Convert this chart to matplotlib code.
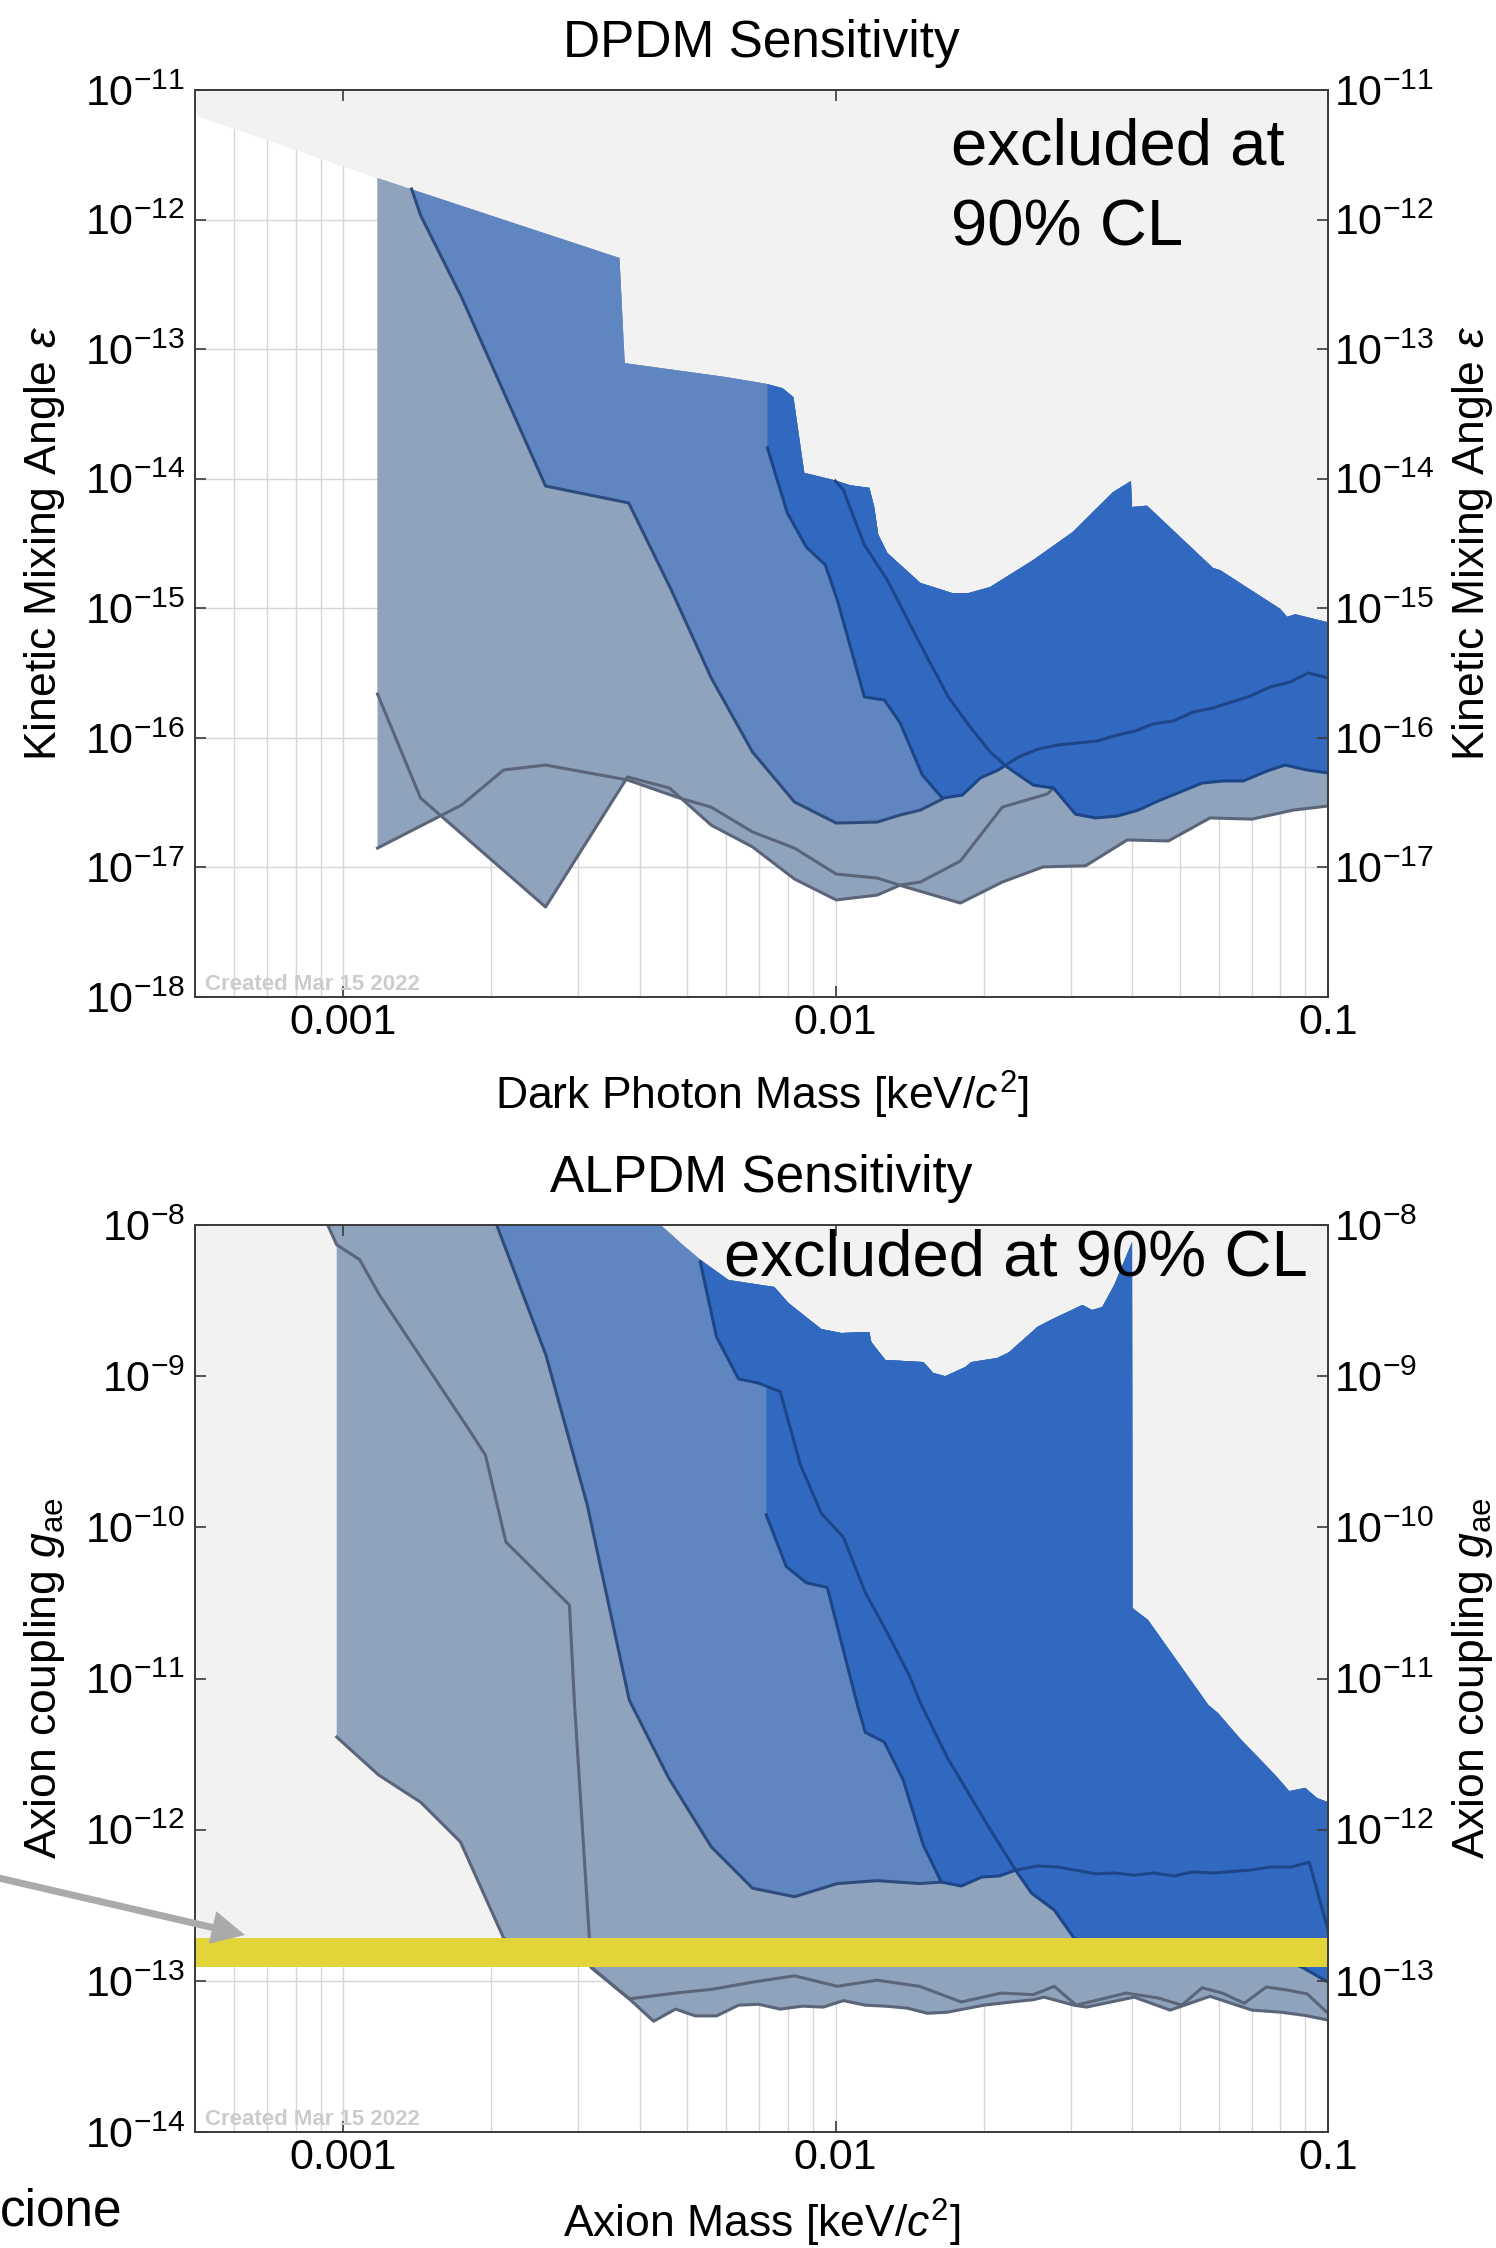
import matplotlib
matplotlib.use("Agg")
import matplotlib.pyplot as plt
import numpy as np
from matplotlib.patches import FancyArrowPatch, ArrowStyle
from matplotlib.ticker import NullFormatter, NullLocator

plt.rcParams['font.family'] = ['Liberation Sans', 'DejaVu Sans']
plt.rcParams['mathtext.fontset'] = 'custom'
plt.rcParams['mathtext.rm'] = 'Liberation Sans'
plt.rcParams['mathtext.it'] = 'Liberation Sans:italic'
plt.rcParams['mathtext.bf'] = 'Liberation Sans:bold'

# ---------------- DPDM (dark photon mass [keV], kinetic mixing) ----------------
# upper edge of the sensitivity region (grey above it = excluded)
dp_top_mass = [5.0e-4, 1.174e-3, 3.64e-3, 3.73e-3, 5.97e-3, 7.23e-3, 7.8e-3, 8.21e-3, 8.64e-3,
               9.89e-3, 1.071e-2, 1.171e-2, 1.198e-2, 1.221e-2, 1.274e-2, 1.486e-2, 1.726e-2,
               1.86e-2, 2.06e-2, 2.52e-2, 3.03e-2, 3.66e-2, 3.98e-2, 4.0e-2, 4.29e-2, 5.84e-2,
               6.04e-2, 8.0e-2, 8.26e-2, 8.58e-2, 0.1]
dp_top_eps = [6.4e-12, 2.09e-12, 5.05e-13, 7.8e-14, 6.1e-14, 5.4e-14, 5.0e-14, 4.27e-14, 1.11e-14,
              9.8e-15, 8.9e-15, 8.5e-15, 6.05e-15, 3.7e-15, 2.67e-15, 1.57e-15, 1.31e-15,
              1.31e-15, 1.46e-15, 2.36e-15, 3.88e-15, 7.9e-15, 9.6e-15, 6.05e-15, 6.2e-15, 2.05e-15,
              1.97e-15, 9.9e-16, 8.6e-16, 9.0e-16, 7.8e-16]

dp_light1_mass = [1.174e-3, 1.436e-3, 2.576e-3, 3.78e-3, 4.60e-3, 5.59e-3, 6.78e-3, 8.25e-3,
                  1.003e-2, 1.215e-2, 1.353e-2, 1.486e-2, 1.792e-2, 2.18e-2, 2.69e-2, 2.77e-2]
dp_light1_eps = [2.18e-16, 3.43e-17, 4.95e-18, 4.99e-17, 4.10e-17, 2.12e-17, 1.44e-17, 8.14e-18,
                 5.61e-18, 6.12e-18, 7.31e-18, 7.71e-18, 1.12e-17, 2.92e-17, 3.69e-17, 4.10e-17]

dp_light2_mass = [1.174e-3, 1.739e-3, 2.117e-3, 2.576e-3, 3.78e-3, 4.82e-3, 5.59e-3, 6.78e-3,
                  8.25e-3, 1.003e-2, 1.215e-2, 1.366e-2, 1.792e-2, 2.18e-2, 2.64e-2, 3.22e-2,
                  3.91e-2, 4.74e-2, 5.76e-2, 7.01e-2, 8.50e-2, 0.1]
dp_light2_eps = [1.41e-17, 3.03e-17, 5.65e-17, 6.17e-17, 4.73e-17, 3.43e-17, 2.92e-17, 1.88e-17,
                 1.41e-17, 8.89e-18, 8.28e-18, 7.19e-18, 5.31e-18, 7.71e-18, 1.01e-17, 1.03e-17,
                 1.63e-17, 1.60e-17, 2.41e-17, 2.36e-17, 2.77e-17, 2.98e-17]

dp_mid_mass = [1.377e-3, 1.436e-3, 1.739e-3, 2.576e-3, 3.80e-3, 4.64e-3, 5.59e-3, 6.78e-3,
               8.25e-3, 1.003e-2, 1.215e-2, 1.353e-2, 1.486e-2, 1.647e-2]
dp_mid_eps = [1.72e-12, 1.08e-12, 2.52e-13, 8.78e-15, 6.50e-15, 1.38e-15, 2.90e-16, 7.78e-17,
              3.20e-17, 2.20e-17, 2.24e-17, 2.54e-17, 2.77e-17, 3.37e-17]

dp_dark1_mass = [7.27e-3, 7.98e-3, 8.72e-3, 9.53e-3, 1.008e-2, 1.144e-2, 1.256e-2, 1.353e-2,
                 1.50e-2, 1.647e-2, 1.809e-2, 1.967e-2, 2.14e-2, 2.35e-2, 2.58e-2, 2.83e-2,
                 3.40e-2, 3.73e-2, 4.06e-2, 4.41e-2, 4.85e-2, 5.32e-2, 5.84e-2, 6.95e-2,
                 7.63e-2, 8.38e-2, 9.11e-2, 0.1]
dp_dark1_eps = [1.73e-14, 5.44e-15, 2.97e-15, 2.16e-15, 1.16e-15, 2.07e-16, 1.96e-16, 1.30e-16,
                5.17e-17, 3.43e-17, 3.62e-17, 4.90e-17, 5.65e-17, 7.11e-17, 8.20e-17, 8.81e-17,
                9.46e-17, 1.05e-16, 1.13e-16, 1.28e-16, 1.35e-16, 1.58e-16, 1.70e-16, 2.10e-16,
                2.47e-16, 2.70e-16, 3.17e-16, 2.90e-16]

dp_dark2_mass = [9.99e-3, 1.037e-2, 1.144e-2, 1.274e-2, 1.507e-2, 1.694e-2, 1.877e-2, 2.06e-2,
                 2.23e-2, 2.52e-2, 2.77e-2, 3.07e-2, 3.37e-2, 3.73e-2, 4.12e-2, 4.52e-2,
                 5.01e-2, 5.55e-2, 6.12e-2, 6.73e-2, 7.52e-2, 8.18e-2, 9.07e-2, 0.1]
dp_dark2_eps = [9.6e-15, 8.18e-15, 3.08e-15, 1.65e-15, 4.76e-16, 2.07e-16, 1.21e-16, 7.78e-17,
                5.96e-17, 4.32e-17, 4.10e-17, 2.58e-17, 2.41e-17, 2.49e-17, 2.77e-17, 3.26e-17,
                3.82e-17, 4.48e-17, 4.65e-17, 4.65e-17, 5.55e-17, 6.17e-17, 5.65e-17, 5.36e-17]

# ---------------- ALPDM (axion mass [keV], coupling g_ae) ----------------
al_top_mass = [5.0e-4, 4.41e-3, 4.575e-3, 4.89e-3, 5.31e-3, 6.06e-3, 7.51e-3, 8.02e-3, 9.35e-3,
               1.027e-2, 1.171e-2, 1.182e-2, 1.262e-2, 1.507e-2, 1.579e-2, 1.67e-2, 1.834e-2,
               1.886e-2, 2.13e-2, 2.25e-2, 2.57e-2, 2.73e-2, 3.17e-2, 3.32e-2, 3.48e-2, 3.68e-2,
               4.00e-2, 4.01e-2, 4.31e-2, 5.71e-2, 5.98e-2, 6.63e-2, 7.81e-2, 8.34e-2, 8.99e-2,
               9.50e-2, 0.1]
al_top_g = [1e-8, 1e-8, 9.0e-9, 7.4e-9, 5.9e-9, 4.33e-9, 3.89e-9, 3.05e-9, 2.05e-9,
            1.93e-9, 1.96e-9, 1.68e-9, 1.28e-9, 1.24e-9, 1.05e-9, 1.0e-9, 1.15e-9,
            1.24e-9, 1.32e-9, 1.44e-9, 2.12e-9, 2.35e-9, 2.96e-9, 2.74e-9, 2.87e-9, 4.01e-9,
            7.7e-9, 2.92e-11, 2.44e-11, 6.7e-12, 5.9e-12, 4.0e-12, 2.3e-12, 1.8e-12, 1.89e-12,
            1.62e-12, 1.52e-12]

al_light1_mass = [9.3e-4, 9.7e-4, 1.08e-3, 1.185e-3, 1.436e-3, 1.82e-3, 1.945e-3, 2.14e-3, 2.88e-3,
                  2.95e-3, 3.19e-3, 3.81e-3, 4.27e-3, 4.73e-3, 5.19e-3, 5.73e-3, 6.35e-3, 6.97e-3,
                  7.72e-3, 8.56e-3, 9.44e-3, 1.037e-2, 1.149e-2, 1.262e-2, 1.398e-2, 1.536e-2,
                  1.686e-2, 2.0e-2, 2.28e-2, 2.52e-2, 2.65e-2, 3.05e-2, 3.23e-2, 4.04e-2, 4.78e-2,
                  5.76e-2, 7.01e-2, 8.03e-2, 8.99e-2, 0.1]
al_light1_g = [1e-8, 7.4e-9, 5.9e-9, 3.44e-9, 1.34e-9, 4.2e-10, 3.0e-10, 8.0e-11, 3.06e-11,
               6.7e-12, 1.22e-13, 7.6e-14, 5.4e-14, 6.5e-14, 5.86e-14, 5.86e-14, 6.9e-14, 7.0e-14,
               6.5e-14, 6.8e-14, 6.7e-14, 7.4e-14, 6.9e-14, 6.8e-14, 6.6e-14, 6.1e-14,
               6.2e-14, 6.9e-14, 7.25e-14, 7.5e-14, 7.8e-14, 6.9e-14, 6.7e-14, 7.8e-14, 6.4e-14,
               7.9e-14, 6.4e-14, 6.2e-14, 5.9e-14, 5.5e-14]

al_light2_mass = [9.7e-4, 1.18e-3, 1.436e-3, 1.73e-3, 2.117e-3, 2.52e-3, 3.13e-3, 3.81e-3, 4.73e-3,
                  5.62e-3, 6.78e-3, 8.25e-3, 1.008e-2, 1.215e-2, 1.48e-2, 1.80e-2, 2.17e-2, 2.52e-2,
                  2.78e-2, 3.08e-2, 3.89e-2, 4.52e-2, 5.05e-2, 5.55e-2, 6.10e-2, 6.76e-2, 7.49e-2,
                  8.26e-2, 9.07e-2, 0.1]
al_light2_g = [4.1e-12, 2.3e-12, 1.52e-12, 8.3e-13, 1.92e-13, 1.48e-13, 1.3e-13, 7.6e-14, 8.3e-14,
               8.8e-14, 9.8e-14, 1.08e-13, 9.2e-14, 1.01e-13, 9.2e-14, 7.25e-14, 8.3e-14, 8.1e-14,
               9.2e-14, 6.9e-14, 8.3e-14, 7.7e-14, 6.9e-14, 9.0e-14, 8.3e-14, 7.1e-14, 9.1e-14,
               8.7e-14, 8.2e-14, 6.1e-14]

al_mid_mass = [2.05e-3, 2.58e-3, 3.13e-3, 3.81e-3, 4.58e-3, 5.59e-3, 6.78e-3, 8.25e-3, 1.008e-2,
               1.215e-2, 1.48e-2, 1.64e-2]
al_mid_g = [1e-8, 1.38e-9, 1.41e-10, 7.2e-12, 2.2e-12, 7.7e-13, 4.1e-13, 3.6e-13, 4.4e-13,
            4.6e-13, 4.4e-13, 4.5e-13]

al_dark1_mass = [7.23e-3, 7.94e-3, 8.72e-3, 9.62e-3, 1.107e-2, 1.149e-2, 1.256e-2, 1.372e-2,
                 1.507e-2, 1.64e-2, 1.80e-2, 1.98e-2, 2.15e-2, 2.32e-2, 2.57e-2, 2.83e-2, 3.38e-2,
                 3.68e-2, 4.04e-2, 4.44e-2, 4.87e-2, 5.30e-2, 5.82e-2, 6.95e-2, 7.63e-2, 8.42e-2,
                 9.16e-2, 0.1]
al_dark1_g = [1.21e-10, 5.5e-11, 4.3e-11, 4.0e-11, 6.7e-12, 4.4e-12, 3.8e-12, 2.13e-12,
              7.9e-13, 4.5e-13, 4.24e-13, 4.86e-13, 4.94e-13, 5.4e-13, 5.75e-13, 5.66e-13, 5.1e-13,
              5.17e-13, 5.0e-13, 5.17e-13, 4.94e-13, 5.25e-13, 5.17e-13, 5.4e-13, 5.66e-13, 5.66e-13,
              6.1e-13, 2.17e-13]

al_dark2_mass = [5.31e-3, 5.73e-3, 6.35e-3, 6.97e-3, 7.72e-3, 8.48e-3, 9.35e-3, 1.037e-2, 1.149e-2,
                 1.274e-2, 1.411e-2, 1.493e-2, 1.686e-2, 2.05e-2, 2.32e-2, 2.50e-2, 2.78e-2, 3.05e-2,
                 3.61e-2, 5.5e-2, 8.38e-2, 8.9e-2, 0.1]
al_dark2_g = [5.7e-9, 1.82e-9, 9.6e-10, 9.0e-10, 7.9e-10, 2.6e-10, 1.24e-10, 8.6e-11, 3.7e-11,
              2.0e-11, 1.05e-11, 6.7e-12, 3.0e-12, 1.03e-12, 5.4e-13, 3.8e-13, 2.94e-13, 1.92e-13,
              1.6e-13, 1.48e-13, 1.33e-13, 1.22e-13, 9.8e-14]

# yellow reference band in the axion panel
al_band_g = [1.24e-13, 1.92e-13]

EXCL_GRAY = '#f2f2f2'
LIGHT, LIGHT_EDGE = '#8fa3bd', '#5b6579'
MID, MID_EDGE = '#5f86c0', '#2d4b7d'
DARK, DARK_EDGE = '#3169c1', '#1d4688'
YELLOW = '#e3d439'
GRID = '#d6d6d6'
AXIS = '#3a3a3a'

TICK_SIZE = 31
LABEL_SIZE = 32
TITLE_SIZE = 37


def fill_to_top(ax, mass, vals, top_mass, top_vals, color, z):
    """
    Fills the region between a curve and the upper sensitivity edge (log-log).
    """
    lx, ly = np.log10(mass), np.log10(vals)
    tlx, tly = np.log10(top_mass), np.log10(top_vals)
    inside = (tlx > lx[0]) & (tlx < lx[-1])
    sx = np.concatenate([[lx[0]], tlx[inside], [lx[-1]]])
    sy = np.interp(sx, tlx, tly)
    px = np.concatenate([lx, sx[::-1]])
    py = np.concatenate([ly, sy[::-1]])
    ax.fill(10 ** px, 10 ** py, color=color, lw=0, zorder=z)


def style_axes(ax, ylo, yhi, xlabel, ylabel, title, xpad):
    """
    Log axes, light grid, inward ticks and labels on both sides.
    """
    ax.set_xscale('log')
    ax.set_yscale('log')
    ax.set_xlim(5e-4, 0.1)
    ax.set_ylim(10.0 ** ylo, 10.0 ** yhi)

    # grid drawn by hand so it stays under the filled regions
    for d in (-4, -3, -2):
        for s in range(1, 10):
            m = s * 10.0 ** d
            if 5e-4 < m < 0.1:
                ax.axvline(m, color=GRID, lw=1.0, zorder=0.5)
    for k in range(ylo + 1, yhi):
        ax.axhline(10.0 ** k, color=GRID, lw=1.0, zorder=0.5)

    ax.set_xticks([1e-3, 1e-2, 1e-1])
    ax.set_xticklabels(['0.001', '0.01', '0.1'])
    ax.xaxis.set_minor_formatter(NullFormatter())
    ax.set_yticks([10.0 ** k for k in range(ylo, yhi + 1)])
    ax.yaxis.set_minor_locator(NullLocator())
    ax.tick_params(which='major', direction='in', length=8, width=1.2, color=AXIS,
                   top=True, right=False, labelsize=TICK_SIZE)
    ax.tick_params(axis='x', pad=4)
    ax.tick_params(axis='y', pad=7)
    ax.tick_params(which='minor', length=0)
    for sp in ax.spines.values():
        sp.set_color(AXIS)
        sp.set_linewidth(1.2)
        sp.set_zorder(10)

    ax.set_xlabel(xlabel, fontsize=LABEL_SIZE, labelpad=xpad)
    ax.set_ylabel(ylabel, fontsize=LABEL_SIZE)
    ax.yaxis.set_label_coords(-0.113, 0.5)
    ax.set_title(title, fontsize=TITLE_SIZE, pad=24)

    twin = ax.twinx()
    twin.set_yscale('log')
    twin.set_ylim(10.0 ** ylo, 10.0 ** yhi)
    twin.set_yticks([10.0 ** k for k in range(ylo + 1, yhi + 1)])
    twin.yaxis.set_minor_locator(NullLocator())
    twin.tick_params(which='major', direction='in', length=8, width=1.2, color=AXIS,
                     labelsize=TICK_SIZE, pad=4)
    for sp in twin.spines.values():
        sp.set_color(AXIS)
        sp.set_linewidth(1.2)
    twin.set_ylabel(ylabel, fontsize=LABEL_SIZE)
    twin.yaxis.set_label_coords(1.108, 0.5)

    ax.text(0.009, 0.008, 'Created Mar 15 2022', transform=ax.transAxes, fontsize=16,
            fontweight='bold', color='#cccccc', va='baseline', zorder=6)


def draw_bands(ax, top, light, mid, dark):
    """
    Light, medium and dark sensitivity regions, each with its edge lines.
    """
    for m, v in light:
        fill_to_top(ax, m, v, top[0], top[1], LIGHT, 1.0)
    for m, v in light:
        ax.plot(m, v, color=LIGHT_EDGE, lw=2.2, zorder=1.1)
    for m, v in mid:
        fill_to_top(ax, m, v, top[0], top[1], MID, 1.2)
        ax.plot(m, v, color=MID_EDGE, lw=2.2, zorder=1.3)
    for m, v in dark:
        fill_to_top(ax, m, v, top[0], top[1], DARK, 1.4)
    for m, v in dark:
        ax.plot(m, v, color=DARK_EDGE, lw=2.2, zorder=1.5)


fig = plt.figure(figsize=(14.96, 22.48), dpi=100)
W, H = 1496.0, 2248.0
ax1 = fig.add_axes([195 / W, 1 - 997 / H, 1133 / W, 907 / H])
ax2 = fig.add_axes([195 / W, 1 - 2132 / H, 1133 / W, 907 / H])

# ---- DPDM panel ----
ax1.fill_between(dp_top_mass, dp_top_eps, 1e-11, color=EXCL_GRAY, lw=0, zorder=0.8)
draw_bands(ax1, (dp_top_mass, dp_top_eps),
           [(dp_light1_mass, dp_light1_eps), (dp_light2_mass, dp_light2_eps)],
           [(dp_mid_mass, dp_mid_eps)],
           [(dp_dark1_mass, dp_dark1_eps), (dp_dark2_mass, dp_dark2_eps)])
style_axes(ax1, -18, -11, r'Dark Photon Mass [keV/$c^2$]',
           r'Kinetic Mixing Angle $\varepsilon$', 'DPDM Sensitivity', 19)
ax1.text(0.667, 0.918, 'excluded at', transform=ax1.transAxes, fontsize=47,
         va='baseline', ha='left', zorder=6)
ax1.text(0.667, 0.829, '90% CL', transform=ax1.transAxes, fontsize=47,
         va='baseline', ha='left', zorder=6)

# ---- ALPDM panel ----
ax2.fill_between([5e-4, 0.1], al_band_g[1], 1e-8, color=EXCL_GRAY, lw=0, zorder=0.8)
draw_bands(ax2, (al_top_mass, al_top_g),
           [(al_light1_mass, al_light1_g), (al_light2_mass, al_light2_g)],
           [(al_mid_mass, al_mid_g)],
           [(al_dark1_mass, al_dark1_g), (al_dark2_mass, al_dark2_g)])
ax2.fill_between([5e-4, 0.1], al_band_g[0], al_band_g[1], color=YELLOW, lw=0, zorder=1.7)
style_axes(ax2, -14, -8, r'Axion Mass [keV/$c^2$]',
           r'Axion coupling $g_\mathrm{ae}$', 'ALPDM Sensitivity', 14)
ax2.text(0.467, 0.944, 'excluded at 90% CL', transform=ax2.transAxes, fontsize=47,
         va='baseline', ha='left', zorder=6)

# pointer from the slide text on the left
arrow = FancyArrowPatch((-10 / W, 1 - 1876 / H), (245 / W, 1 - 1935 / H),
                        transform=fig.transFigure,
                        arrowstyle=ArrowStyle('Simple', head_length=1.0, head_width=1.0,
                                              tail_width=0.21),
                        mutation_scale=24, color='#aaaaaa', lw=0, shrinkA=0, shrinkB=0)
fig.add_artist(arrow)
fig.text(0.0, 1 - 2225 / H, 'cione', fontsize=37, ha='left', va='baseline')

fig.savefig('out.png', dpi=100)
